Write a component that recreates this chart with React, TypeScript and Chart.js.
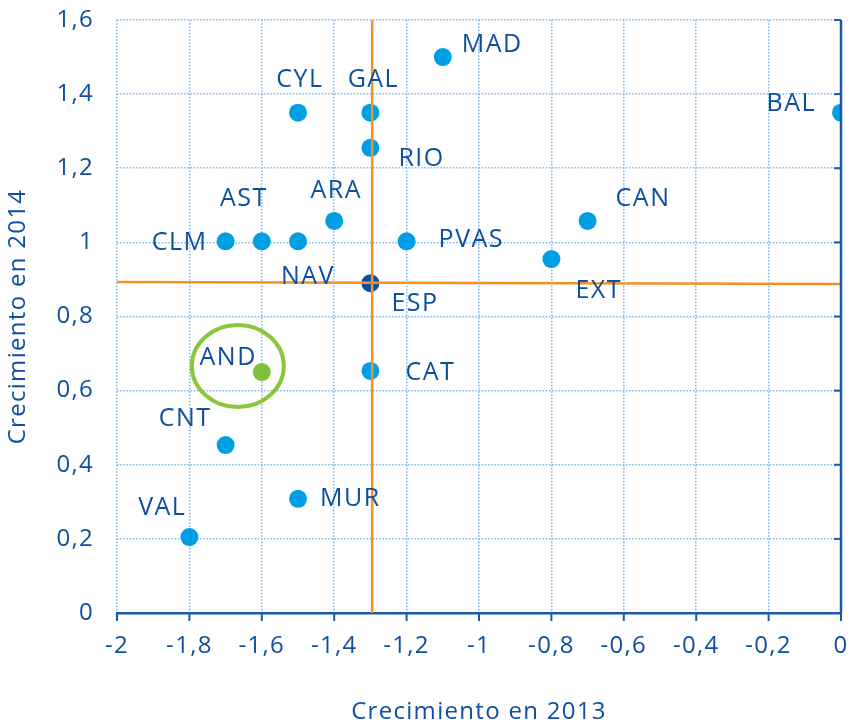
import React, { useEffect, useRef } from "react";
import { Chart, registerables } from "chart.js";

Chart.register(...registerables);

// ---- Data ----
const regions = ["MAD", "CYL", "GAL", "RIO", "BAL", "CAN", "ARA", "AST", "CLM", "NAV", "PVAS", "EXT", "CAT", "CNT", "MUR", "VAL"];
const growth2013 = [-1.1, -1.5, -1.3, -1.3, 0, -0.7, -1.4, -1.6, -1.7, -1.5, -1.2, -0.8, -1.3, -1.7, -1.5, -1.8];
const growth2014 = [1.5, 1.35, 1.35, 1.255, 1.35, 1.058, 1.058, 1.003, 1.003, 1.003, 1.003, 0.955, 0.653, 0.453, 0.308, 0.205];

const spainLabel = "ESP";
const spain2013 = [-1.3];
const spain2014 = [0.89];

const andLabel = "AND";
const and2013 = [-1.6];
const and2014 = [0.65];

// reference (average) lines
const avgVerticalX = [-1.295, -1.295];
const avgVerticalY = [0, 1.6];
const avgHorizontalX = [-2, 0];
const avgHorizontalY = [0.893, 0.888];

const xTitle = "Crecimiento en 2013";
const yTitle = "Crecimiento en 2014";

// ---- Label placement (styling) ----
type Place = { align: CanvasTextAlign; dx: number; dy: number };
const labelPlacement: Record<string, Place> = {
  MAD: { align: "left", dx: 19, dy: -12 },
  CYL: { align: "center", dx: 2, dy: -33 },
  GAL: { align: "center", dx: 3, dy: -33 },
  RIO: { align: "left", dx: 28, dy: 11 },
  BAL: { align: "right", dx: -25, dy: -9 },
  CAN: { align: "left", dx: 28, dy: -22 },
  ARA: { align: "center", dx: 2, dy: -30 },
  AST: { align: "center", dx: -18, dy: -42 },
  CLM: { align: "right", dx: -18, dy: 2 },
  NAV: { align: "center", dx: 10, dy: 36 },
  PVAS: { align: "left", dx: 32, dy: -1 },
  EXT: { align: "left", dx: 24, dy: 32 },
  CAT: { align: "left", dx: 35, dy: 2 },
  CNT: { align: "right", dx: -14, dy: -26 },
  MUR: { align: "left", dx: 22, dy: 0 },
  VAL: { align: "right", dx: -3, dy: -29 },
  ESP: { align: "left", dx: 21, dy: 21 },
  AND: { align: "right", dx: -5, dy: -14 },
};

const TEXT = "#0e4fa0";
const AXIS = "#1a5aaa";
const POINT = "#009fe3";
const GRID = "#86bbee";
const ORANGE = "#f39226";
const GREEN = "#8cc63f";
const FONT = "'Open Sans', 'Noto Sans', sans-serif";

const fmt = (v: number) => String(Number(Number(v).toFixed(1))).replace(".", ",");

export default function App() {
  const ref = useRef<HTMLCanvasElement | null>(null);

  useEffect(() => {
    const canvas = ref.current;
    if (!canvas) return;

    const spacingPlugin = {
      id: "spacing",
      beforeUpdate(chart: any) {
        (chart.ctx as any).letterSpacing = "1.3px";
      },
      beforeDraw(chart: any) {
        (chart.ctx as any).letterSpacing = "1.3px";
      },
    };

    const decoPlugin = {
      id: "deco",
      afterDatasetsDraw(chart: any) {
        const ctx = chart.ctx as CanvasRenderingContext2D;
        const { chartArea } = chart;
        const xs = chart.scales.x;
        const ys = chart.scales.y;
        ctx.save();
        (ctx as any).letterSpacing = "1.5px";
        // right axis line + inward ticks
        ctx.strokeStyle = AXIS;
        ctx.lineWidth = 2.5;
        ctx.beginPath();
        ctx.moveTo(chartArea.right, chartArea.top);
        ctx.lineTo(chartArea.right, chartArea.bottom);
        ctx.stroke();
        ctx.lineWidth = 2;
        ys.ticks.forEach((t: any) => {
          const y = ys.getPixelForValue(t.value);
          ctx.beginPath();
          ctx.moveTo(chartArea.right - 7, y);
          ctx.lineTo(chartArea.right, y);
          ctx.stroke();
        });
        xs.ticks.forEach((t: any) => {
          const x = xs.getPixelForValue(t.value);
          ctx.beginPath();
          ctx.moveTo(x, chartArea.bottom);
          ctx.lineTo(x, chartArea.bottom + 8);
          ctx.stroke();
        });

        // green ellipse around AND
        const ax = xs.getPixelForValue(and2013[0]);
        const ay = ys.getPixelForValue(and2014[0]);
        ctx.strokeStyle = GREEN;
        ctx.lineWidth = 4;
        ctx.beginPath();
        ctx.ellipse(ax - 24, ay - 6, 46, 41, 0, 0, Math.PI * 2);
        ctx.stroke();

        // labels
        ctx.fillStyle = TEXT;
        ctx.font = `25px ${FONT}`;
        ctx.textBaseline = "middle";
        const drawLabel = (name: string, xv: number, yv: number) => {
          const p = labelPlacement[name];
          if (!p) return;
          ctx.textAlign = p.align;
          ctx.fillText(name, xs.getPixelForValue(xv) + p.dx, ys.getPixelForValue(yv) + p.dy);
        };
        regions.forEach((r, i) => drawLabel(r, growth2013[i], growth2014[i]));
        drawLabel(spainLabel, spain2013[0], spain2014[0]);
        drawLabel(andLabel, and2013[0], and2014[0]);
        ctx.restore();
      },
    };

    const chart = new Chart(canvas, {
      type: "scatter",
      data: {
        datasets: [
          {
            type: "line",
            data: avgVerticalX.map((x, i) => ({ x, y: avgVerticalY[i] })),
            borderColor: ORANGE,
            borderWidth: 2.5,
            pointRadius: 0,
            showLine: true,
            fill: false,
          } as any,
          {
            type: "line",
            data: avgHorizontalX.map((x, i) => ({ x, y: avgHorizontalY[i] })),
            borderColor: ORANGE,
            borderWidth: 2.5,
            pointRadius: 0,
            showLine: true,
            fill: false,
          } as any,
          {
            data: spain2013.map((x, i) => ({ x, y: spain2014[i] })),
            backgroundColor: "#0b4ea2",
            borderWidth: 0,
            pointRadius: 9,
          },
          {
            data: and2013.map((x, i) => ({ x, y: and2014[i] })),
            backgroundColor: "#7dc13a",
            borderWidth: 0,
            pointRadius: 9,
          },
          {
            data: growth2013.map((x, i) => ({ x, y: growth2014[i] })),
            backgroundColor: POINT,
            borderWidth: 0,
            pointRadius: 9,
          },
        ],
      },
      options: {
        animation: false,
        responsive: false,
        layout: { padding: { top: 20, right: 13, left: 0, bottom: 0 } },
        plugins: {
          legend: { display: false },
          tooltip: { enabled: false },
        },
        scales: {
          x: {
            type: "linear",
            min: -2,
            max: 0,
            afterFit: (s: any) => {
              s.height = 111;
              s.paddingLeft = 0;
              s.paddingRight = 0;
            },
            ticks: {
              stepSize: 0.2,
              color: TEXT,
              font: { family: FONT, size: 24 },
              padding: 19,
              callback: (v: any) => fmt(v),
              maxRotation: 0,
            },
            grid: {
              color: GRID,
              lineWidth: 1.6,
              drawTicks: false,
            },
            border: { display: true, color: AXIS, width: 2.5, dash: [1.6, 1.6] },
            title: {
              display: true,
              text: xTitle,
              color: TEXT,
              font: { family: FONT, size: 24, lineHeight: 1 },
              padding: { top: 0, bottom: 0 },
            },
          },
          y: {
            type: "linear",
            min: 0,
            max: 1.6,
            afterFit: (s: any) => {
              s.width = 117;
              s.paddingTop = 0;
              s.paddingBottom = 0;
            },
            ticks: {
              stepSize: 0.2,
              color: TEXT,
              font: { family: FONT, size: 24 },
              padding: 23,
              callback: (v: any) => fmt(v),
            },
            grid: {
              color: GRID,
              lineWidth: 1.6,
              drawTicks: false,
            },
            border: { display: false, dash: [1.6, 1.6] },
            title: {
              display: true,
              text: yTitle,
              color: TEXT,
              font: { family: FONT, size: 24, lineHeight: 1.2 },
              padding: { top: 4, bottom: 0 },
            },
          },
        },
      },
      plugins: [spacingPlugin, decoPlugin],
    } as any);

    return () => chart.destroy();
  }, []);

  return (
    <div style={{ position: "fixed", left: 0, top: 0, width: 854, height: 724, background: "#fff" }}>
      <canvas ref={ref} width={854} height={724} />
    </div>
  );
}
